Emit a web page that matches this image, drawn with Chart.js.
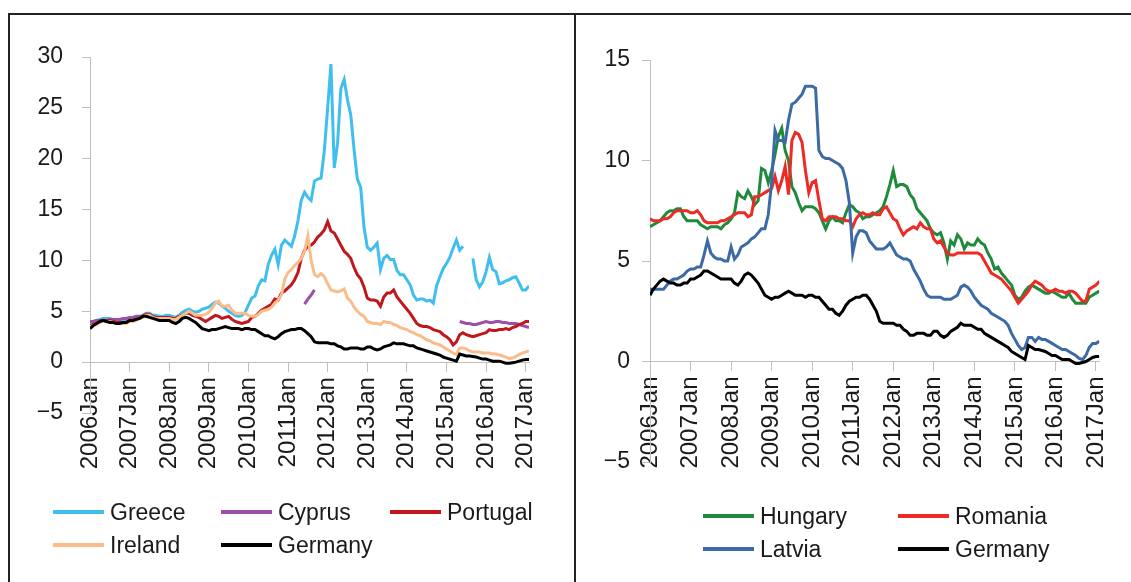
<!DOCTYPE html>
<html>
<head>
<meta charset="utf-8">
<script src="https://cdn.jsdelivr.net/npm/chart.js@4.4.1/dist/chart.umd.min.js"></script>
<style>
  html, body { margin: 0; padding: 0; background: #fff; }
  body { width: 1131px; height: 582px; position: relative; overflow: hidden;
         font-family: "Liberation Sans", Arial, sans-serif; color: #1a1a1a; }
  .frame-top { position: absolute; left: 8px; top: 13px; width: 1123px; height: 2px; background: #222; }
  .frame-left { position: absolute; left: 8px; top: 13px; width: 2px; height: 569px; background: #222; }
  .frame-mid { position: absolute; left: 574px; top: 13px; width: 2px; height: 569px; background: #222; }
  canvas { position: absolute; }
  .leg { position: absolute; display: flex; align-items: center; height: 30px; font-size: 23px; white-space: nowrap; }
  .leg span.sw { display: inline-block; width: 51px; height: 4px; margin-right: 6px; }
</style>
</head>
<body>
<div class="frame-top"></div>
<div class="frame-left"></div>
<div class="frame-mid"></div>
<canvas id="left" width="564" height="567" style="left:10px; top:15px;"></canvas>
<canvas id="right" width="554" height="567" style="left:577px; top:15px;"></canvas>
<div id="legends"></div>
<script>
// monthly long-term government bond yields, 2006 Jan .. 2017 Feb (index = months since 2006 Jan)
const startYear = 2006;
const yearTicks = [2006, 2007, 2008, 2009, 2010, 2011, 2012, 2013, 2014, 2015, 2016, 2017];

const greece = [
  3.9, 4.0, 4.1, 4.2, 4.3, 4.3, 4.3, 4.2, 4.1, 4.0, 4.0, 4.1,
  4.2, 4.2, 4.3, 4.4, 4.6, 4.8, 4.8, 4.6, 4.6, 4.5, 4.5, 4.6,
  4.6, 4.5, 4.4, 4.6, 4.9, 5.1, 5.2, 5.0, 4.9, 5.0, 5.2, 5.3,
  5.4, 5.7, 5.9, 5.8, 5.5, 5.3, 5.0, 4.8, 4.6, 4.5, 4.6, 4.9,
  5.6, 6.3, 6.5, 7.5, 8.1, 8.0, 9.6, 10.5, 11.1, 9.6, 11.5, 12.0,
  11.7, 11.4, 12.4, 13.9, 15.9, 16.7, 16.2, 15.9, 17.8, 18.0, 18.1, 20.8,
  25.0, 29.3, 19.1, 21.5, 26.9, 27.8, 25.8, 24.3, 20.9, 18.0, 17.2, 13.3,
  11.3, 11.0, 11.3, 11.7, 9.1, 10.2, 10.5, 10.1, 10.1, 9.0, 8.6, 8.6,
  8.1, 7.6, 6.6, 6.1, 6.2, 6.2, 6.0, 6.1, 5.8, 7.5, 8.4, 9.2,
  9.7, 10.3, 11.2, 12.0, 11.0, 11.4, null, null, 10.2, 8.1, 7.4, 7.9,
  8.9, 10.3, 9.1, 8.9, 7.7, 7.8, 8.0, 8.1, 8.3, 8.4, 7.8, 7.1,
  7.1, 7.5
];
const cyprus = [
  4.0, 4.0, 4.1, 4.1, 4.1, 4.1, 4.2, 4.2, 4.2, 4.2, 4.3, 4.3,
  4.4, 4.4, 4.5, 4.5, 4.5, 4.6, null, null, null, null, null, null,
  null, null, null, null, null, null, null, null, null, null, null, null,
  null, null, null, null, null, null, null, null, null, null, null, null,
  null, null, null, null, null, null, null, null, null, null, null, null,
  null, null, null, null, null, 5.7, 6.2, 6.6, 7.1, null, null, null,
  null, null, null, null, null, null, null, null, null, null, null, null,
  null, null, null, null, null, null, null, null, null, null, null, null,
  null, null, null, null, null, null, null, null, null, null, null, null,
  null, null, null, null, 4.0, 3.9, 3.8, 3.8, 3.7, 3.7, 3.8, 3.9,
  4.0, 3.9, 3.9, 4.0, 4.0, 3.9, 3.9, 3.8, 3.8, 3.8, 3.7, 3.6,
  3.5, 3.4
];
const portugal = [
  3.6, 3.7, 3.8, 4.0, 4.1, 4.1, 4.1, 4.0, 3.9, 3.9, 3.9, 3.9,
  4.1, 4.1, 4.2, 4.3, 4.5, 4.7, 4.7, 4.5, 4.4, 4.4, 4.4, 4.4,
  4.4, 4.3, 4.3, 4.5, 4.6, 4.8, 4.8, 4.6, 4.5, 4.4, 4.2, 4.0,
  4.2, 4.4, 4.6, 4.5, 4.3, 4.4, 4.5, 4.2, 4.0, 3.9, 3.8, 3.9,
  4.0, 4.4, 4.5, 4.8, 5.1, 5.3, 5.5, 5.7, 6.2, 6.1, 6.8, 7.0,
  7.3, 7.6, 8.1, 8.8, 10.2, 11.0, 11.4, 11.5, 11.8, 12.3, 12.6, 13.0,
  13.8, 12.9, 12.7, 12.1, 11.5, 10.9, 10.6, 10.2, 9.3, 8.6, 8.2, 7.4,
  6.3, 6.1, 6.1, 6.0, 5.5, 6.4, 6.8, 6.8, 7.1, 6.4, 6.0, 5.6,
  5.2, 4.8, 4.3, 3.8, 3.6, 3.5, 3.5, 3.4, 3.2, 3.1, 3.0, 2.7,
  2.5, 2.2, 1.7, 2.0, 2.7, 2.9, 2.7, 2.6, 2.5, 2.6, 2.7, 2.8,
  2.9, 3.2, 3.1, 3.1, 3.2, 3.2, 3.3, 3.2, 3.4, 3.5, 3.7, 3.8,
  4.0, 4.0
];
const ireland = [
  3.5, 3.6, 3.7, 3.9, 4.0, 4.0, 4.0, 3.9, 3.8, 3.8, 3.8, 3.8,
  4.0, 4.0, 4.1, 4.3, 4.4, 4.6, 4.6, 4.4, 4.3, 4.3, 4.3, 4.3,
  4.3, 4.2, 4.2, 4.4, 4.6, 4.8, 5.0, 4.8, 4.6, 4.6, 4.6, 4.7,
  4.9, 5.3, 5.8, 6.0, 5.5, 5.5, 5.6, 5.1, 4.8, 4.8, 4.8, 4.8,
  4.6, 4.5, 4.5, 4.7, 5.0, 5.1, 5.2, 5.4, 5.8, 6.1, 6.6, 8.2,
  8.8, 9.1, 9.5, 9.8, 10.2, 10.9, 12.4, 10.0, 8.6, 8.4, 8.7, 8.4,
  7.7, 7.1, 7.0, 6.9, 7.0, 7.2, 6.3, 6.0, 5.4, 5.0, 4.7, 4.5,
  4.0, 3.9, 3.8, 3.8, 3.7, 4.0, 3.9, 3.9, 3.7, 3.6, 3.4, 3.3,
  3.2, 3.0, 2.9, 2.7, 2.6, 2.4, 2.2, 2.1, 1.9, 1.8, 1.7, 1.5,
  1.3, 1.1, 0.9, 0.75, 1.4, 1.4, 1.3, 1.1, 1.0, 1.0, 1.0, 0.9,
  0.9, 0.9, 0.8, 0.8, 0.7, 0.6, 0.5, 0.35, 0.4, 0.55, 0.75, 0.9,
  1.0, 1.1
];
const germany = [
  3.3, 3.6, 3.8, 4.0, 4.1, 4.0, 3.9, 3.9, 3.8, 3.8, 3.9, 3.9,
  4.1, 4.1, 4.2, 4.3, 4.5, 4.5, 4.4, 4.3, 4.2, 4.1, 4.1, 4.1,
  4.1, 3.9, 3.8, 4.0, 4.3, 4.4, 4.3, 4.1, 3.9, 3.6, 3.3, 3.2,
  3.1, 3.2, 3.2, 3.3, 3.4, 3.5, 3.4, 3.3, 3.3, 3.3, 3.2, 3.3,
  3.3, 3.2, 3.2, 3.0, 2.8, 2.6, 2.6, 2.4, 2.3, 2.5, 2.8, 3.0,
  3.1, 3.2, 3.2, 3.3, 3.3, 3.1, 2.8, 2.5, 2.0, 1.9, 1.9, 1.9,
  1.9, 1.8, 1.8, 1.6, 1.5, 1.3, 1.3, 1.4, 1.4, 1.4, 1.3, 1.3,
  1.5, 1.5, 1.3, 1.2, 1.3, 1.5, 1.6, 1.7, 1.9, 1.8, 1.8, 1.8,
  1.7, 1.6, 1.6, 1.4, 1.3, 1.2, 1.1, 1.0, 0.9, 0.8, 0.7, 0.5,
  0.4, 0.3, 0.2, 0.1, 0.8, 0.7, 0.6, 0.6, 0.55, 0.5, 0.4, 0.3,
  0.3, 0.2, 0.1, 0.1, 0.1, 0.0, -0.1, -0.1, -0.05, 0.0, 0.1, 0.2,
  0.25, 0.25
];
const hungary = [
  6.7, 6.8, 6.9, 7.0, 7.2, 7.4, 7.5, 7.5, 7.6, 7.6, 7.2, 7.0,
  7.0, 7.0, 7.0, 6.8, 6.7, 6.6, 6.7, 6.7, 6.7, 6.6, 6.8, 6.9,
  7.1, 7.4, 8.4, 8.2, 8.1, 8.5, 8.2, 7.8, 8.0, 9.6, 9.5, 8.9,
  9.5, 10.3, 11.2, 11.6, 10.5, 10.0, 8.7, 8.4, 7.9, 7.5, 7.7, 7.7,
  7.7, 7.6, 7.4, 7.0, 6.6, 7.0, 7.2, 7.0, 7.0, 6.9, 7.4, 7.8,
  7.7, 7.5, 7.4, 7.1, 7.2, 7.2, 7.3, 7.4, 7.5, 7.7, 8.2, 8.8,
  9.5, 8.7, 8.8, 8.8, 8.7, 8.3, 8.1, 7.6, 7.4, 7.2, 7.0, 6.6,
  6.4, 6.3, 6.4, 5.9, 5.1, 6.0, 5.8, 6.3, 6.1, 5.6, 5.9, 5.8,
  5.8, 6.1, 5.9, 5.8, 5.4, 5.1, 4.6, 4.7, 4.4, 4.2, 4.0, 3.8,
  3.3, 3.1, 3.2, 3.5, 3.7, 3.8, 3.7, 3.6, 3.5, 3.4, 3.4, 3.5,
  3.4, 3.3, 3.2, 3.2, 3.4, 3.1, 2.9, 2.9, 2.9, 2.9, 3.2, 3.3,
  3.4, 3.5
];
const romania = [
  7.1, 7.0, 7.0, 7.0, 7.1, 7.1, 7.2, 7.4, 7.5, 7.5, 7.5, 7.5,
  7.4, 7.4, 7.5, 7.3, 7.0, 6.9, 6.9, 6.9, 6.9, 7.0, 7.0, 7.1,
  7.2, 7.3, 7.4, 7.4, 7.4, 7.2, 7.3, 8.2, 8.2, 8.3, 8.4, 8.5,
  8.6, 9.2, 8.5, 9.0, 9.7, 8.3, 11.0, 11.4, 11.3, 10.9, 9.5, 8.4,
  8.9, 9.0, 8.0, 7.1, 7.0, 7.2, 7.2, 7.2, 7.1, 7.1, 7.0, 7.0,
  6.7, 7.1, 7.3, 7.4, 7.3, 7.3, 7.4, 7.3, 7.3, 7.6, 7.7, 7.4,
  7.1, 7.0, 6.6, 6.3, 6.5, 6.6, 6.7, 6.6, 6.9, 6.7, 6.6, 6.6,
  6.1, 5.9, 6.0, 5.7, 5.4, 5.3, 5.3, 5.4, 5.4, 5.4, 5.4, 5.4,
  5.4, 5.4, 5.3, 5.0, 4.7, 4.4, 4.3, 4.2, 4.1, 3.9, 3.7, 3.5,
  3.2, 2.9, 3.1, 3.3, 3.5, 3.8, 4.0, 3.9, 3.8, 3.6, 3.5, 3.5,
  3.6, 3.5, 3.5, 3.4, 3.5, 3.5, 3.4, 3.2, 3.0, 3.0, 3.6, 3.7,
  3.8, 4.0
];
const latvia = [
  3.6, 3.6, 3.6, 3.6, 3.6, 3.8, 4.0, 4.1, 4.1, 4.2, 4.3, 4.5,
  4.6, 4.6, 4.7, 4.7, 5.3, 6.0, 5.4, 5.2, 5.1, 5.1, 5.0, 5.0,
  5.7, 5.1, 5.3, 5.7, 5.8, 5.9, 6.1, 6.2, 6.4, 6.6, 6.6, 7.3,
  8.9, 11.5, 11.0, 11.0, 10.9, 12.0, 12.8, 12.9, 13.1, 13.3, 13.7, 13.7,
  13.7, 13.6, 10.5, 10.2, 10.1, 10.1, 10.0, 9.9, 9.8, 9.6, 9.0, 7.9,
  5.4, 6.2, 6.5, 6.5, 6.4, 6.0, 5.8, 5.6, 5.6, 5.6, 5.7, 5.9,
  5.6, 5.3, 5.2, 5.1, 5.1, 5.0, 4.6, 4.3, 4.0, 3.6, 3.3, 3.2,
  3.2, 3.2, 3.2, 3.1, 3.1, 3.1, 3.2, 3.3, 3.7, 3.8, 3.7, 3.5,
  3.2, 3.0, 2.8, 2.7, 2.6, 2.4, 2.3, 2.2, 2.1, 2.0, 1.8, 1.4,
  1.1, 0.8, 0.6, 0.7, 1.2, 1.2, 1.0, 1.2, 1.1, 1.1, 1.0, 0.9,
  0.8, 0.7, 0.6, 0.6, 0.5, 0.4, 0.3, 0.15, 0.1, 0.3, 0.7, 0.9,
  0.9, 1.0
];

const FONT = '"Liberation Sans", Arial, sans-serif';
const AXIS = '#bfbfbf';
const TEXT = '#1a1a1a';

function toPoints(values) {
  return values.map((v, i) => ({ x: i, y: v }));
}

function series(label, values, color, order) {
  return {
    label: label,
    data: toPoints(values),
    borderColor: color,
    backgroundColor: color,
    borderWidth: 3,
    pointRadius: 0,
    tension: 0,
    spanGaps: false,
    order: order
  };
}

function makeChart(id, datasets, yMin, yMax, opt) {
  const lastIndex = datasets[0].data.length - 1;
  return new Chart(document.getElementById(id), {
    type: 'line',
    data: { datasets: datasets },
    options: {
      responsive: false,
      animation: false,
      events: [],
      layout: { padding: { left: 0, top: opt.top, right: opt.right, bottom: opt.bottom } },
      plugins: { legend: { display: false }, tooltip: { enabled: false } },
      scales: {
        x: {
          type: 'linear',
          position: { y: 0 },
          min: 0,
          max: lastIndex,
          afterBuildTicks: s => { s.ticks = yearTicks.map(y => ({ value: (y - startYear) * 12 })); },
          grid: { display: true, drawOnChartArea: false, drawTicks: true, tickLength: 9, color: AXIS },
          border: { display: true, color: AXIS, width: 1 },
          ticks: {
            autoSkip: false, minRotation: 90, maxRotation: 90, padding: 6,
            color: TEXT, font: { family: FONT, size: 24 },
            callback: v => (startYear + v / 12) + 'Jan'
          }
        },
        y: {
          min: yMin,
          max: yMax,
          afterFit: s => { s.width = opt.axisWidth; },
          grid: { display: true, drawOnChartArea: false, drawTicks: true, tickLength: 8, color: AXIS },
          border: { display: true, color: AXIS, width: 1 },
          ticks: {
            stepSize: 5, padding: opt.tickPad,
            color: TEXT, font: { family: FONT, size: 23 },
            callback: v => v < 0 ? '\u2212' + (-v) : String(v)
          }
        }
      }
    }
  });
}

const leftSets = [
  series('Greece', greece, '#40bfef', 5),
  series('Cyprus', cyprus, '#9e4fa8', 4),
  series('Portugal', portugal, '#c0161c', 3),
  series('Ireland', ireland, '#f9bd8b', 2),
  series('Germany', germany, '#000000', 1)
];
const rightSets = [
  series('Hungary', hungary, '#1f8a3b', 4),
  series('Romania', romania, '#ee2a24', 3),
  series('Latvia', latvia, '#3b6aa5', 2),
  series('Germany', germany, '#000000', 1)
];

makeChart('left', leftSets, -5, 30, { top: 42, right: 45, bottom: 169, axisWidth: 80, tickPad: 19 });
makeChart('right', rightSets, -5, 15, { top: 45, right: 29, bottom: 120, axisWidth: 73, tickPad: 12 });

// legends laid out as a grid, like the original
const legendSpots = [
  { set: leftSets[0], x: 53, y: 512 }, { set: leftSets[1], x: 221, y: 512 }, { set: leftSets[2], x: 390, y: 512 },
  { set: leftSets[3], x: 53, y: 545 }, { set: leftSets[4], x: 221, y: 545 },
  { set: rightSets[0], x: 703, y: 516 }, { set: rightSets[1], x: 898, y: 516 },
  { set: rightSets[2], x: 703, y: 549 }, { set: rightSets[3], x: 898, y: 549 }
];
const box = document.getElementById('legends');
legendSpots.forEach(p => {
  const d = document.createElement('div');
  d.className = 'leg';
  d.style.left = p.x + 'px';
  d.style.top = (p.y - 15) + 'px';
  d.innerHTML = '<span class="sw" style="background:' + p.set.borderColor + '"></span>' + p.set.label;
  box.appendChild(d);
});
</script>
</body>
</html>
